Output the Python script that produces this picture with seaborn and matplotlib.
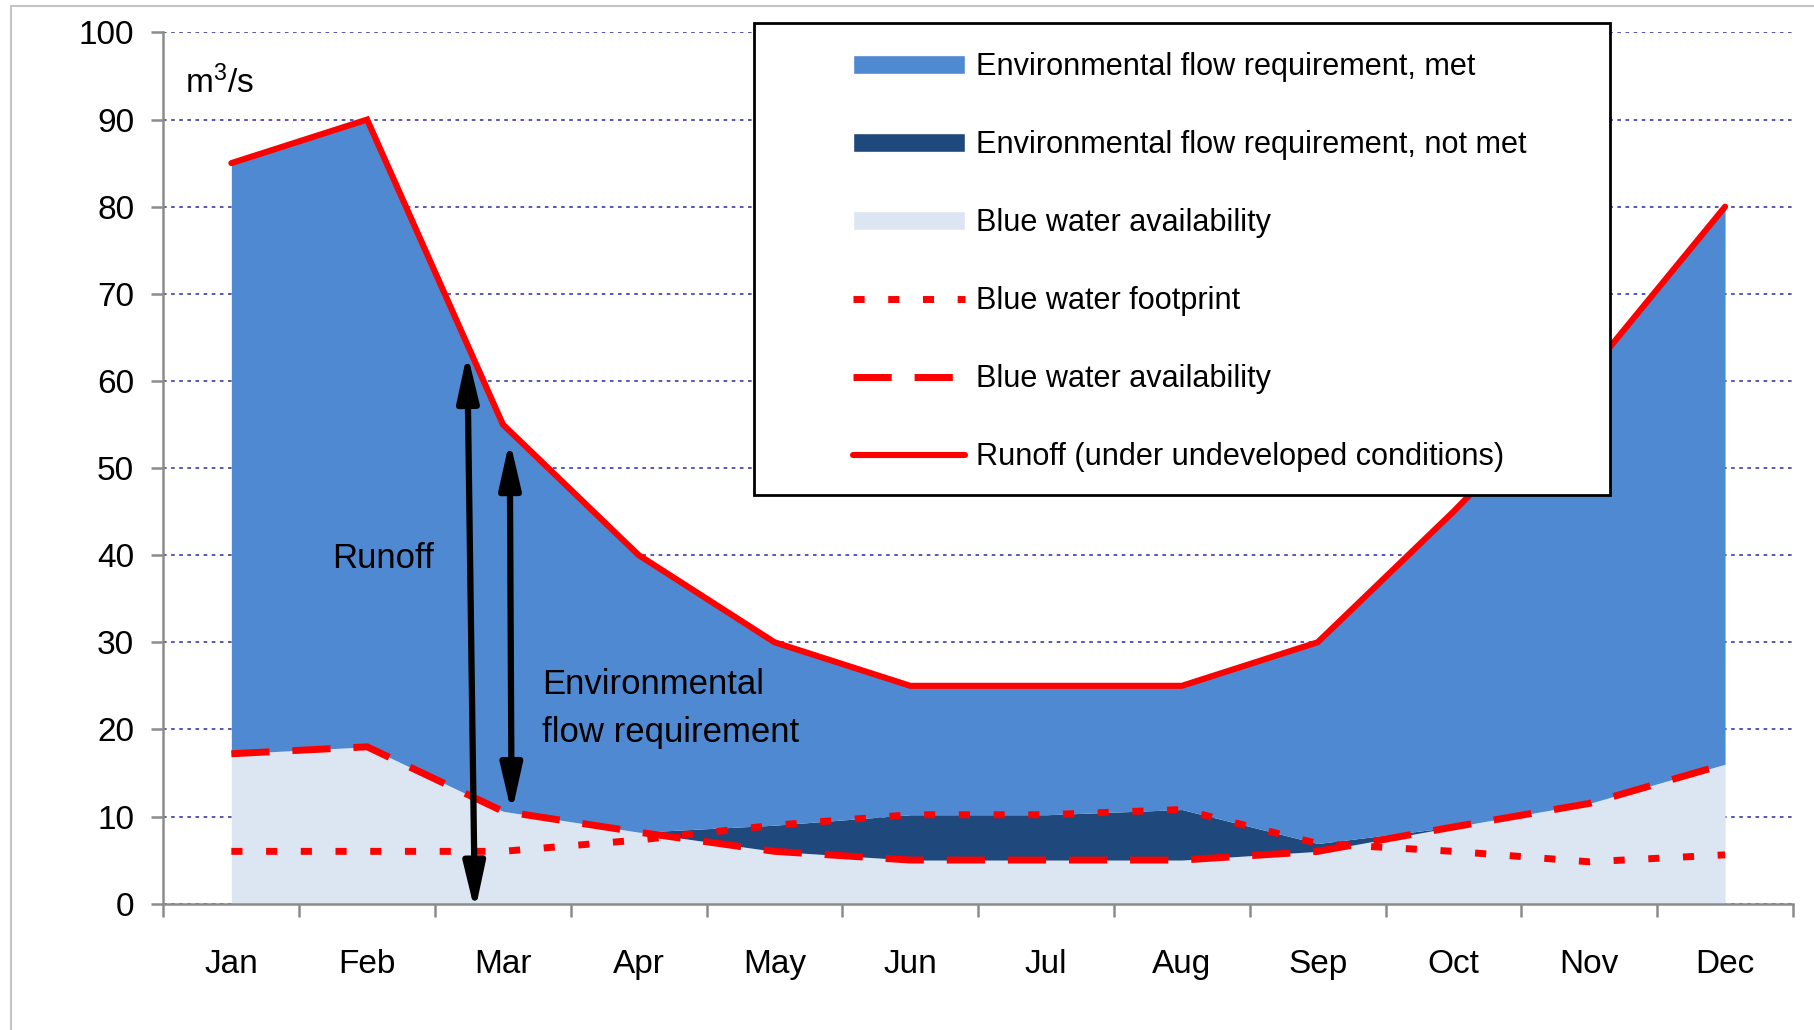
import numpy as np
import pandas as pd
import seaborn as sns
import matplotlib
matplotlib.use("Agg")
import matplotlib.pyplot as plt
from matplotlib.patches import Rectangle, Patch
from matplotlib.lines import Line2D

# values (m3/s)
months = ["Jan", "Feb", "Mar", "Apr", "May", "Jun", "Jul", "Aug", "Sep", "Oct", "Nov", "Dec"]
runoff = [85, 90, 55, 40, 30, 25, 25, 25, 30, 45, 61, 80]
availability = [17.2, 18, 10.6, 8.2, 6, 5, 5, 5, 6, 8.8, 11.5, 16]
footprint = [6, 6, 6, 7.3, 9, 10.2, 10.2, 10.8, 6.9, 6, 4.8, 5.6]
y_ticks = list(range(0, 101, 10))

legend_labels = [
    "Environmental flow requirement, met",
    "Environmental flow requirement, not met",
    "Blue water availability",
    "Blue water footprint",
    "Blue water availability",
    "Runoff (under undeveloped conditions)",
]

MET = "#4E89D2"
NOT_MET = "#1F497D"
AVAIL = "#DCE6F2"
RED = "#FF0000"
GRID = "#4A4AAA"
AXIS = "#8C8C8C"

sns.set_theme(style="white")
plt.rcParams["font.family"] = ["Liberation Sans", "DejaVu Sans"]
plt.rcParams["text.color"] = "black"
plt.rcParams["mathtext.fontset"] = "custom"
plt.rcParams["mathtext.rm"] = "Liberation Sans"
plt.rcParams["mathtext.it"] = "Liberation Sans:italic"

df = pd.DataFrame({"month": months, "runoff": runoff,
                   "availability": availability, "footprint": footprint})
df["pos"] = np.arange(len(df))
# stacked like the original area chart: unmet part sits on top of availability
df["unmet_top"] = df["availability"] + np.maximum(df["footprint"] - df["availability"], 0)

fig = plt.figure(figsize=(18.14, 10.30), dpi=100)
ax = fig.add_axes([0.0901, 0.1227, 0.8983, 0.8458])

# areas
ax.fill_between(df["pos"], 0, df["availability"], color=AVAIL, lw=0, zorder=1)
ax.fill_between(df["pos"], df["availability"], df["unmet_top"], color=NOT_MET, lw=0, zorder=1)
ax.fill_between(df["pos"], df["unmet_top"], df["runoff"], color=MET, lw=0, zorder=1)

# lines
sns.lineplot(data=df, x="pos", y="footprint", ax=ax, color=RED, lw=5,
             linestyle=(0, (1.6, 3.4)), dash_capstyle="butt", zorder=3)
sns.lineplot(data=df, x="pos", y="availability", ax=ax, color=RED, lw=5,
             linestyle=(0, (5.5, 3.3)), dash_capstyle="butt", zorder=3)
sns.lineplot(data=df, x="pos", y="runoff", ax=ax, color=RED, lw=4.4,
             solid_joinstyle="miter", zorder=3)

ax.set_xlabel("")
ax.set_ylabel("")
ax.set_xlim(-0.5, 11.5)
ax.set_ylim(0, 100)

# grid / axes
ax.set_axisbelow(True)
ax.set_yticks(y_ticks)
ax.yaxis.grid(True, color=GRID, linestyle=(0, (2, 2.5)), lw=1.3)
ax.xaxis.grid(False)
for s in ["top", "right"]:
    ax.spines[s].set_visible(False)
for s in ["left", "bottom"]:
    ax.spines[s].set_color(AXIS)
    ax.spines[s].set_linewidth(1.8)

ax.set_xticks(np.arange(-0.5, 12, 1))
ax.tick_params(axis="x", which="major", bottom=True, length=9.5, width=1.8,
               color=AXIS, labelbottom=False)
ax.set_xticks(df["pos"], minor=True)
ax.set_xticklabels(months, minor=True)
ax.tick_params(axis="x", which="minor", bottom=True, length=0, pad=33, labelsize=24,
               labelcolor="black")
ax.tick_params(axis="y", left=True, length=9, width=1.8, color=AXIS, pad=12, labelsize=24,
               labelcolor="black")

# annotations
arrow = dict(arrowstyle="<|-|>,head_length=1.4,head_width=0.32", lw=4.5, color="black",
             shrinkA=0, shrinkB=0, mutation_scale=20)
ax.annotate("", xy=(1.737, 63.2), xytext=(1.794, -0.9), arrowprops=arrow, zorder=4)
ax.annotate("", xy=(2.05, 53.2), xytext=(2.064, 10.4), arrowprops=arrow, zorder=4)
ax.text(1.12, 39.6, "Runoff", ha="center", va="center", fontsize=25, zorder=5)
ax.text(2.29, 22.4, "Environmental\nflow requirement", ha="left", va="center",
        fontsize=25, linespacing=1.55, zorder=5)
ax.text(-0.34, 94.2, "m$^3$/s", ha="left", va="center", fontsize=24)

# legend with its own white box
fig.add_artist(Rectangle((754 / 1814, 1 - 495 / 1030), (1610 - 754) / 1814, (495 - 23) / 1030,
                         transform=fig.transFigure, facecolor="white", edgecolor="black",
                         lw=2, zorder=4))
handles = [
    Patch(facecolor=MET),
    Patch(facecolor=NOT_MET),
    Patch(facecolor=AVAIL),
    Line2D([], [], color=RED, lw=5, linestyle=(0, (1.6, 3.4)), dash_capstyle="butt"),
    Line2D([], [], color=RED, lw=5, linestyle=(0, (5.5, 3.3)), dash_capstyle="butt"),
    Line2D([], [], color=RED, lw=4.4),
]
leg = fig.legend(handles, legend_labels, loc="upper left",
                 bbox_to_anchor=(853 / 1814, 1 - 52.5 / 1030), bbox_transform=fig.transFigure,
                 frameon=False, fontsize=22.1, handlelength=3.65, handleheight=0.59,
                 handletextpad=0.36, labelspacing=1.56, borderpad=0, borderaxespad=0)
leg.set_zorder(5)

# light outer border of the chart area
fig.add_artist(Rectangle((11 / 1814, -0.05), 1.2, 1 - 6 / 1030 + 0.05,
                         transform=fig.transFigure, fill=False, edgecolor="#C4C4C4",
                         lw=1.5, zorder=6))

fig.savefig("out.png", dpi=100)
